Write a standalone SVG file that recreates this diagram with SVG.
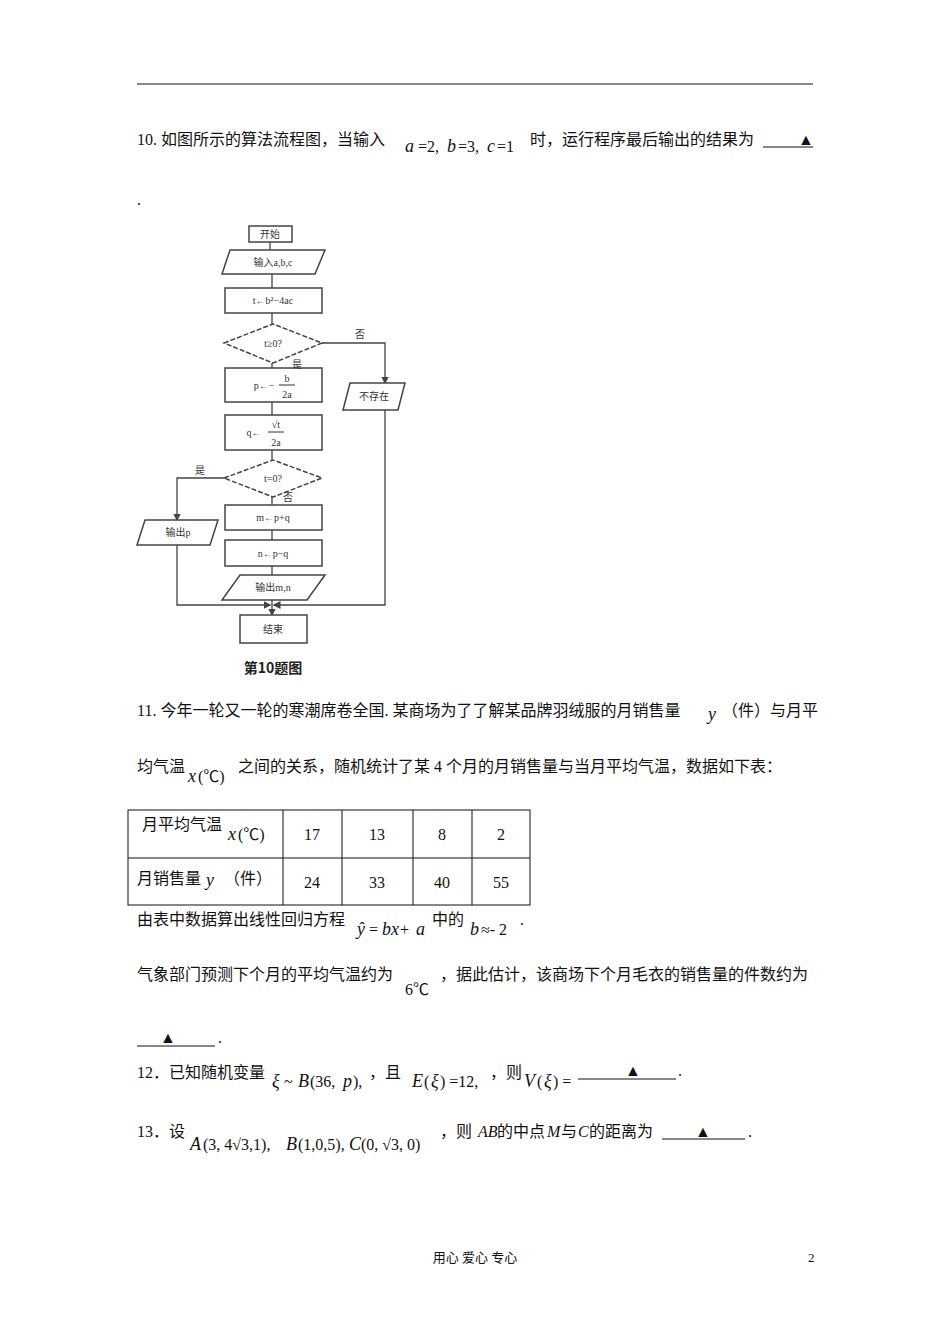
<svg xmlns="http://www.w3.org/2000/svg" width="950" height="1344" viewBox="0 0 950 1344">
<style>
.t{font-family:"Liberation Serif","Noto Sans CJK SC",serif;font-size:16px;fill:#111}
.m{font-family:"Liberation Serif",serif;font-style:italic;font-size:18px;fill:#111}
.f{font-family:"Liberation Serif","Noto Sans CJK SC",serif;font-size:10px;fill:#333}
.s{fill:#fff;stroke:#444;stroke-width:1.5}
.c{fill:none;stroke:#444;stroke-width:1.3}
.g{fill:none;stroke:#111;stroke-width:1}
</style>
<defs><marker id="a" markerWidth="6" markerHeight="6" refX="5" refY="3" orient="auto"><path d="M0,0L6,3L0,6z" fill="#444"/></marker></defs>
<rect width="950" height="1344" fill="#fff"/>
<line x1="137" y1="84" x2="813" y2="84" class="g"/>
<text x="137" y="145" class="t">10.  如图所示的算法流程图，当输入</text>
<text x="405" y="152" class="m">a</text><text x="418" y="152" class="t">=2,</text><text x="447" y="152" class="m">b</text><text x="458" y="152" class="t">=3,</text><text x="487" y="152" class="m">c</text><text x="497" y="152" class="t">=1</text>
<text x="530" y="145" class="t">时，运行程序最后输出的结果为</text>
<line x1="763" y1="147" x2="813" y2="147" class="g"/><text x="798" y="145" class="t">▲</text>
<text x="137" y="205" class="t">.</text>
<g id="connectors">
<path d="M270,242V250M272,274V288M272,313V324M272,363V368M272,402V415M272,450V460M272,497V505M272,530V540M272,566V575M272,600V615" class="c" marker-end="url(#a)"/>
<path d="M322,343H385V383" class="c" marker-end="url(#a)"/>
<path d="M385,410V605H274" class="c" marker-end="url(#a)"/>
<path d="M224,478H177V520" class="c" marker-end="url(#a)"/>
<path d="M177,545V605H270" class="c" marker-end="url(#a)"/>
</g>
<g id="start"><rect x="249" y="226" width="43" height="16" class="s"/><text x="270" y="238" class="f" text-anchor="middle">开始</text></g>
<g id="input"><path d="M230,250H325L315,274H222Z" class="s"/><text x="273" y="266" class="f" text-anchor="middle">输入a,b,c</text></g>
<g id="t"><rect x="225" y="288" width="97" height="25" class="s"/><text x="273" y="304" class="f" text-anchor="middle">t←b²−4ac</text></g>
<g id="d1"><path d="M224,343L273,324L322,343L273,363Z" class="s" stroke-dasharray="5,2"/><text x="273" y="347" class="f" text-anchor="middle">t≥0?</text></g>
<g id="p"><rect x="225" y="368" width="97" height="34" class="s"/><text x="264" y="389" class="f" text-anchor="middle">p←−</text><text x="287" y="382" class="f" text-anchor="middle">b</text><line x1="279" y1="385" x2="295" y2="385" stroke="#333"/><text x="287" y="398" class="f" text-anchor="middle">2a</text></g>
<g id="q"><rect x="225" y="415" width="97" height="35" class="s"/><text x="254" y="436" class="f" text-anchor="middle">q←</text><text x="276" y="428" class="f" text-anchor="middle">√t</text><line x1="268" y1="432" x2="284" y2="432" stroke="#333"/><text x="276" y="446" class="f" text-anchor="middle">2a</text></g>
<g id="d2"><path d="M224,478L273,460L322,478L273,497Z" class="s" stroke-dasharray="5,2"/><text x="273" y="482" class="f" text-anchor="middle">t=0?</text></g>
<g id="m"><rect x="225" y="505" width="97" height="25" class="s"/><text x="273" y="521" class="f" text-anchor="middle">m←p+q</text></g>
<g id="n"><rect x="225" y="540" width="97" height="26" class="s"/><text x="273" y="557" class="f" text-anchor="middle">n←p−q</text></g>
<g id="outmn"><path d="M240,575H325L307,600H222Z" class="s"/><text x="273" y="591" class="f" text-anchor="middle">输出m,n</text></g>
<g id="none"><path d="M350,383H405L398,410H343Z" class="s"/><text x="374" y="400" class="f" text-anchor="middle">不存在</text></g>
<g id="outp"><path d="M145,520H218L210,545H137Z" class="s"/><text x="178" y="536" class="f" text-anchor="middle">输出p</text></g>
<g id="end"><rect x="240" y="615" width="67" height="28" class="s"/><text x="273" y="633" class="f" text-anchor="middle">结束</text></g>
<text x="355" y="338" class="f">否</text><text x="292" y="368" class="f">是</text>
<text x="195" y="474" class="f">是</text><text x="283" y="501" class="f">否</text>
<text x="273" y="673" text-anchor="middle" style="font-family:'Noto Sans CJK SC',sans-serif;font-size:14px;font-weight:bold;fill:#222">第10题图</text>
<text x="137" y="716" class="t">11. 今年一轮又一轮的寒潮席卷全国. 某商场为了了解某品牌羽绒服的月销售量</text><text x="708" y="720" class="m">y</text><text x="722" y="716" class="t">（件）与月平</text>
<text x="137" y="772" class="t">均气温</text><text x="188" y="782" class="m">x</text><text x="198" y="782" class="t">(℃)</text><text x="238" y="772" class="t">之间的关系，随机统计了某 4 个月的月销售量与当月平均气温，数据如下表：</text>
<g class="g"><rect x="128" y="810" width="402" height="95"/><line x1="128" y1="858" x2="530" y2="858"/><line x1="283" y1="810" x2="283" y2="905"/><line x1="342" y1="810" x2="342" y2="905"/><line x1="413" y1="810" x2="413" y2="905"/><line x1="472" y1="810" x2="472" y2="905"/></g>
<text x="142" y="830" class="t">月平均气温</text><text x="228" y="840" class="m">x</text><text x="238" y="840" class="t">(℃)</text>
<text x="312" y="840" class="t" text-anchor="middle">17</text><text x="377" y="840" class="t" text-anchor="middle">13</text><text x="442" y="840" class="t" text-anchor="middle">8</text><text x="501" y="840" class="t" text-anchor="middle">2</text>
<text x="137" y="884" class="t">月销售量</text><text x="206" y="886" class="m">y</text><text x="224" y="884" class="t">（件）</text>
<text x="312" y="888" class="t" text-anchor="middle">24</text><text x="377" y="888" class="t" text-anchor="middle">33</text><text x="442" y="888" class="t" text-anchor="middle">40</text><text x="501" y="888" class="t" text-anchor="middle">55</text>
<text x="137" y="925" class="t">由表中数据算出线性回归方程</text><text x="357" y="935" class="m">ŷ</text><text x="369" y="935" class="t">=</text><text x="382" y="935" class="m">bx</text><text x="400" y="935" class="t">+</text><text x="416" y="935" class="m">a</text><text x="432" y="925" class="t">中的</text><text x="470" y="935" class="m">b</text><text x="481" y="935" class="t">≈- 2</text><text x="520" y="925" class="t">.</text>
<text x="137" y="980" class="t">气象部门预测下个月的平均气温约为</text><text x="405" y="995" class="t">6℃</text><text x="440" y="980" class="t">，据此估计，该商场下个月毛衣的销售量的件数约为</text>
<line x1="137" y1="1046" x2="215" y2="1046" class="g"/><text x="160" y="1043" class="t">▲</text><text x="218" y="1043" class="t">.</text>
<text x="137" y="1078" class="t">12．已知随机变量</text><text x="272" y="1087" class="m">ξ</text><text x="284" y="1087" class="t">~</text><text x="298" y="1087" class="m">B</text><text x="310" y="1087" class="t">(36,</text><text x="343" y="1087" class="m">p</text><text x="353" y="1087" class="t">),</text><text x="369" y="1078" class="t">，且</text>
<text x="412" y="1087" class="m">E</text><text x="424" y="1087" class="t">(</text><text x="431" y="1087" class="m">ξ</text><text x="440" y="1087" class="t">) =12,</text><text x="490" y="1078" class="t">，则</text><text x="524" y="1087" class="m">V</text><text x="537" y="1087" class="t">(</text><text x="544" y="1087" class="m">ξ</text><text x="553" y="1087" class="t">) =</text>
<line x1="578" y1="1079" x2="676" y2="1079" class="g"/><text x="625" y="1076" class="t">▲</text><text x="678" y="1076" class="t">.</text>
<text x="137" y="1137" class="t">13．设</text><text x="190" y="1150" class="m">A</text><text x="203" y="1150" class="t">(3, 4√3,1),</text><text x="286" y="1150" class="m">B</text><text x="298" y="1150" class="t">(1,0,5),</text><text x="349" y="1150" class="m">C</text><text x="361" y="1150" class="t">(0, √3, 0)</text>
<text x="440" y="1137" class="t">，则</text><text x="478" y="1137" class="t" font-style="italic">AB</text><text x="497" y="1137" class="t">的中点</text><text x="547" y="1137" class="t" font-style="italic">M</text><text x="561" y="1137" class="t">与</text><text x="578" y="1137" class="t" font-style="italic">C</text><text x="589" y="1137" class="t">的距离为</text>
<line x1="662" y1="1139" x2="745" y2="1139" class="g"/><text x="695" y="1137" class="t">▲</text><text x="748" y="1137" class="t">.</text>
<text x="475" y="1262" class="t" font-size="13" text-anchor="middle" style="font-size:13px">用心  爱心  专心</text>
<text x="808" y="1262" class="t" style="font-size:13px">2</text>
</svg>
